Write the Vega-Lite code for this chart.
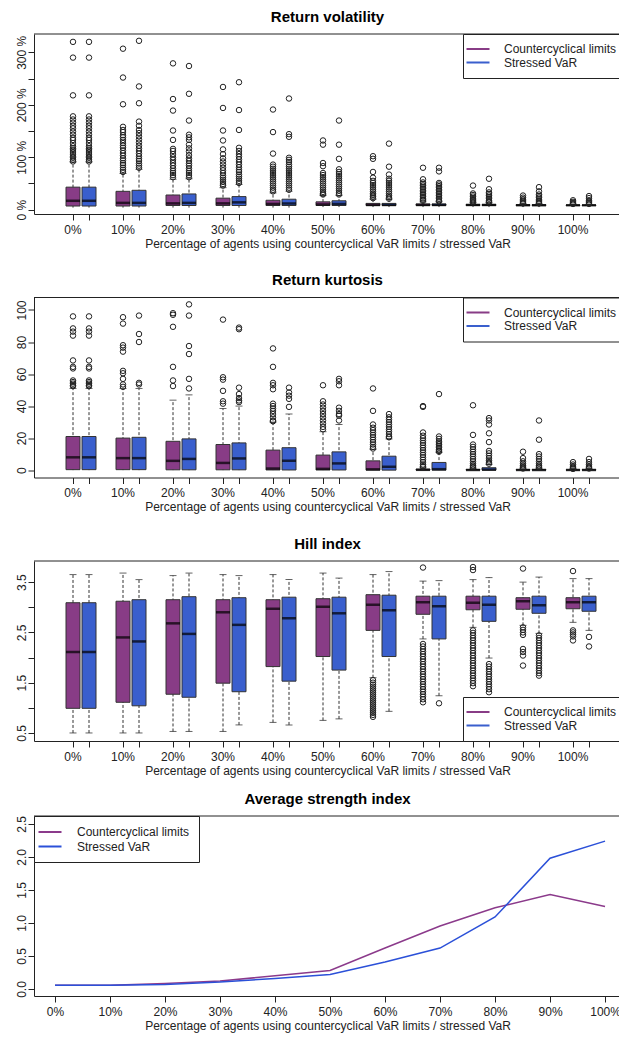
{
  "$schema": "https://vega.github.io/schema/vega-lite/v6.json",
  "background": "white",
  "padding": {"left": 14, "top": 9, "right": -5, "bottom": 6},
  "config": {
    "font": "Liberation Sans",
    "view": {"stroke": null},
    "title": {"font": "Liberation Sans", "fontSize": 15, "fontWeight": "bold", "color": "#000", "anchor": "middle", "frame": "group", "baseline": "alphabetic", "offset": 9},
    "axis": {"grid": false, "labelFont": "Liberation Sans", "labelFontSize": 12, "labelColor": "#222", "tickColor": "#222", "domainColor": "#222", "tickSize": 6, "titleFont": "Liberation Sans", "titleFontSize": 12, "titleFontWeight": "normal", "titleColor": "#222"},
    "axisX": {"labelAngle": 0, "labelPadding": 4, "titlePadding": 3, "orient": "bottom"},
    "axisY": {"labelAngle": 270, "labelAlign": "center", "labelBaseline": "alphabetic", "labelPadding": 3, "labelOverlap": false, "tickCount": 20},
    "legend": {"orient": "none", "strokeColor": "#222", "fillColor": "white", "padding": 9, "labelFont": "Liberation Sans", "labelFontSize": 12, "labelColor": "#222", "symbolSize": 144, "rowPadding": 1.5, "labelOffset": 20, "cornerRadius": 0}
  },
  "datasets": {
    "volBox": [
      {"pct": 0, "s": "C", "lo": 4, "q1": 7, "med": 17, "q3": 43, "hi": 91},
      {"pct": 0, "s": "S", "lo": 4, "q1": 7, "med": 17, "q3": 43, "hi": 91},
      {"pct": 10, "s": "C", "lo": 4, "q1": 7, "med": 13, "q3": 35, "hi": 69},
      {"pct": 10, "s": "S", "lo": 4, "q1": 7, "med": 13, "q3": 37, "hi": 77},
      {"pct": 20, "s": "C", "lo": 4, "q1": 8, "med": 12, "q3": 28, "hi": 58},
      {"pct": 20, "s": "S", "lo": 4, "q1": 8, "med": 13, "q3": 30, "hi": 59},
      {"pct": 30, "s": "C", "lo": 4, "q1": 8, "med": 12, "q3": 22, "hi": 42},
      {"pct": 30, "s": "S", "lo": 4, "q1": 8, "med": 14, "q3": 25, "hi": 48},
      {"pct": 40, "s": "C", "lo": 4, "q1": 8, "med": 11, "q3": 18, "hi": 32},
      {"pct": 40, "s": "S", "lo": 4, "q1": 8, "med": 12, "q3": 20, "hi": 35},
      {"pct": 50, "s": "C", "lo": 5, "q1": 8, "med": 10, "q3": 15, "hi": 27},
      {"pct": 50, "s": "S", "lo": 5, "q1": 8, "med": 11, "q3": 17, "hi": 27},
      {"pct": 60, "s": "C", "lo": 5, "q1": 8, "med": 9, "q3": 12, "hi": 20},
      {"pct": 60, "s": "S", "lo": 5, "q1": 8, "med": 9, "q3": 12, "hi": 20},
      {"pct": 70, "s": "C", "lo": 5, "q1": 8, "med": 9, "q3": 11, "hi": 15},
      {"pct": 70, "s": "S", "lo": 5, "q1": 8, "med": 9, "q3": 11, "hi": 15},
      {"pct": 80, "s": "C", "lo": 5, "q1": 8, "med": 9, "q3": 10, "hi": 13},
      {"pct": 80, "s": "S", "lo": 5, "q1": 8, "med": 9, "q3": 10, "hi": 13},
      {"pct": 90, "s": "C", "lo": 5, "q1": 8, "med": 8.5, "q3": 9.5, "hi": 11},
      {"pct": 90, "s": "S", "lo": 5, "q1": 8, "med": 8.5, "q3": 9.5, "hi": 11},
      {"pct": 100, "s": "C", "lo": 5, "q1": 8, "med": 8.5, "q3": 9, "hi": 10},
      {"pct": 100, "s": "S", "lo": 5, "q1": 8, "med": 8.5, "q3": 9, "hi": 10}
    ],
    "volOut": [
      {"pct":0,"s":"C","v":320},{"pct":0,"s":"C","v":290},{"pct":0,"s":"C","v":218},{"pct":0,"s":"C","v":178},{"pct":0,"s":"C","v":172},{"pct":0,"s":"C","v":166},{"pct":0,"s":"C","v":160},{"pct":0,"s":"C","v":155},{"pct":0,"s":"C","v":149},{"pct":0,"s":"C","v":143},{"pct":0,"s":"C","v":137},{"pct":0,"s":"C","v":133},{"pct":0,"s":"C","v":127},{"pct":0,"s":"C","v":121},{"pct":0,"s":"C","v":117},{"pct":0,"s":"C","v":114},{"pct":0,"s":"C","v":110},{"pct":0,"s":"C","v":106},{"pct":0,"s":"C","v":102},{"pct":0,"s":"C","v":99},{"pct":0,"s":"C","v":95},{"pct":0,"s":"C","v":92},
      {"pct":0,"s":"S","v":320},{"pct":0,"s":"S","v":290},{"pct":0,"s":"S","v":218},{"pct":0,"s":"S","v":178},{"pct":0,"s":"S","v":172},{"pct":0,"s":"S","v":166},{"pct":0,"s":"S","v":160},{"pct":0,"s":"S","v":155},{"pct":0,"s":"S","v":149},{"pct":0,"s":"S","v":143},{"pct":0,"s":"S","v":137},{"pct":0,"s":"S","v":133},{"pct":0,"s":"S","v":127},{"pct":0,"s":"S","v":121},{"pct":0,"s":"S","v":117},{"pct":0,"s":"S","v":114},{"pct":0,"s":"S","v":110},{"pct":0,"s":"S","v":106},{"pct":0,"s":"S","v":102},{"pct":0,"s":"S","v":99},{"pct":0,"s":"S","v":95},{"pct":0,"s":"S","v":92},
      {"pct":10,"s":"C","v":307},{"pct":10,"s":"C","v":252},{"pct":10,"s":"C","v":201},{"pct":10,"s":"C","v":158},{"pct":10,"s":"C","v":152},{"pct":10,"s":"C","v":148},{"pct":10,"s":"C","v":142},{"pct":10,"s":"C","v":138},{"pct":10,"s":"C","v":133},{"pct":10,"s":"C","v":127},{"pct":10,"s":"C","v":122},{"pct":10,"s":"C","v":118},{"pct":10,"s":"C","v":113},{"pct":10,"s":"C","v":108},{"pct":10,"s":"C","v":103},{"pct":10,"s":"C","v":98},{"pct":10,"s":"C","v":94},{"pct":10,"s":"C","v":89},{"pct":10,"s":"C","v":85},{"pct":10,"s":"C","v":80},{"pct":10,"s":"C","v":76},{"pct":10,"s":"C","v":72},
      {"pct":10,"s":"S","v":322},{"pct":10,"s":"S","v":235},{"pct":10,"s":"S","v":203},{"pct":10,"s":"S","v":168},{"pct":10,"s":"S","v":160},{"pct":10,"s":"S","v":152},{"pct":10,"s":"S","v":146},{"pct":10,"s":"S","v":140},{"pct":10,"s":"S","v":134},{"pct":10,"s":"S","v":128},{"pct":10,"s":"S","v":122},{"pct":10,"s":"S","v":117},{"pct":10,"s":"S","v":112},{"pct":10,"s":"S","v":107},{"pct":10,"s":"S","v":102},{"pct":10,"s":"S","v":97},{"pct":10,"s":"S","v":93},{"pct":10,"s":"S","v":88},{"pct":10,"s":"S","v":84},{"pct":10,"s":"S","v":80},
      {"pct":20,"s":"C","v":279},{"pct":20,"s":"C","v":211},{"pct":20,"s":"C","v":189},{"pct":20,"s":"C","v":151},{"pct":20,"s":"C","v":133},{"pct":20,"s":"C","v":116},{"pct":20,"s":"C","v":112},{"pct":20,"s":"C","v":106},{"pct":20,"s":"C","v":100},{"pct":20,"s":"C","v":95},{"pct":20,"s":"C","v":89},{"pct":20,"s":"C","v":84},{"pct":20,"s":"C","v":79},{"pct":20,"s":"C","v":74},{"pct":20,"s":"C","v":70},{"pct":20,"s":"C","v":66},{"pct":20,"s":"C","v":62},
      {"pct":20,"s":"S","v":274},{"pct":20,"s":"S","v":221},{"pct":20,"s":"S","v":170},{"pct":20,"s":"S","v":143},{"pct":20,"s":"S","v":138},{"pct":20,"s":"S","v":133},{"pct":20,"s":"S","v":124},{"pct":20,"s":"S","v":117},{"pct":20,"s":"S","v":111},{"pct":20,"s":"S","v":104},{"pct":20,"s":"S","v":98},{"pct":20,"s":"S","v":93},{"pct":20,"s":"S","v":88},{"pct":20,"s":"S","v":84},{"pct":20,"s":"S","v":79},{"pct":20,"s":"S","v":74},{"pct":20,"s":"S","v":70},{"pct":20,"s":"S","v":66},{"pct":20,"s":"S","v":62},
      {"pct":30,"s":"C","v":234},{"pct":30,"s":"C","v":194},{"pct":30,"s":"C","v":151},{"pct":30,"s":"C","v":132},{"pct":30,"s":"C","v":115},{"pct":30,"s":"C","v":106},{"pct":30,"s":"C","v":98},{"pct":30,"s":"C","v":92},{"pct":30,"s":"C","v":86},{"pct":30,"s":"C","v":80},{"pct":30,"s":"C","v":75},{"pct":30,"s":"C","v":70},{"pct":30,"s":"C","v":65},{"pct":30,"s":"C","v":61},{"pct":30,"s":"C","v":57},{"pct":30,"s":"C","v":53},{"pct":30,"s":"C","v":49},{"pct":30,"s":"C","v":46},
      {"pct":30,"s":"S","v":243},{"pct":30,"s":"S","v":190},{"pct":30,"s":"S","v":152},{"pct":30,"s":"S","v":118},{"pct":30,"s":"S","v":112},{"pct":30,"s":"S","v":106},{"pct":30,"s":"S","v":101},{"pct":30,"s":"S","v":96},{"pct":30,"s":"S","v":91},{"pct":30,"s":"S","v":86},{"pct":30,"s":"S","v":81},{"pct":30,"s":"S","v":76},{"pct":30,"s":"S","v":72},{"pct":30,"s":"S","v":67},{"pct":30,"s":"S","v":63},{"pct":30,"s":"S","v":59},{"pct":30,"s":"S","v":55},{"pct":30,"s":"S","v":51},
      {"pct":40,"s":"C","v":191},{"pct":40,"s":"C","v":148},{"pct":40,"s":"C","v":107},{"pct":40,"s":"C","v":86},{"pct":40,"s":"C","v":82},{"pct":40,"s":"C","v":78},{"pct":40,"s":"C","v":74},{"pct":40,"s":"C","v":70},{"pct":40,"s":"C","v":66},{"pct":40,"s":"C","v":62},{"pct":40,"s":"C","v":58},{"pct":40,"s":"C","v":54},{"pct":40,"s":"C","v":50},{"pct":40,"s":"C","v":46},{"pct":40,"s":"C","v":42},{"pct":40,"s":"C","v":38},{"pct":40,"s":"C","v":35},
      {"pct":40,"s":"S","v":212},{"pct":40,"s":"S","v":144},{"pct":40,"s":"S","v":139},{"pct":40,"s":"S","v":99},{"pct":40,"s":"S","v":95},{"pct":40,"s":"S","v":91},{"pct":40,"s":"S","v":86},{"pct":40,"s":"S","v":82},{"pct":40,"s":"S","v":78},{"pct":40,"s":"S","v":74},{"pct":40,"s":"S","v":70},{"pct":40,"s":"S","v":66},{"pct":40,"s":"S","v":62},{"pct":40,"s":"S","v":58},{"pct":40,"s":"S","v":54},{"pct":40,"s":"S","v":50},{"pct":40,"s":"S","v":46},{"pct":40,"s":"S","v":42},{"pct":40,"s":"S","v":38},
      {"pct":50,"s":"C","v":132},{"pct":50,"s":"C","v":124},{"pct":50,"s":"C","v":89},{"pct":50,"s":"C","v":83},{"pct":50,"s":"C","v":70},{"pct":50,"s":"C","v":66},{"pct":50,"s":"C","v":62},{"pct":50,"s":"C","v":58},{"pct":50,"s":"C","v":54},{"pct":50,"s":"C","v":50},{"pct":50,"s":"C","v":46},{"pct":50,"s":"C","v":42},{"pct":50,"s":"C","v":38},{"pct":50,"s":"C","v":34},{"pct":50,"s":"C","v":31},{"pct":50,"s":"C","v":29},
      {"pct":50,"s":"S","v":170},{"pct":50,"s":"S","v":124},{"pct":50,"s":"S","v":97},{"pct":50,"s":"S","v":77},{"pct":50,"s":"S","v":72},{"pct":50,"s":"S","v":68},{"pct":50,"s":"S","v":64},{"pct":50,"s":"S","v":60},{"pct":50,"s":"S","v":56},{"pct":50,"s":"S","v":52},{"pct":50,"s":"S","v":48},{"pct":50,"s":"S","v":44},{"pct":50,"s":"S","v":40},{"pct":50,"s":"S","v":36},{"pct":50,"s":"S","v":32},{"pct":50,"s":"S","v":29},
      {"pct":60,"s":"C","v":102},{"pct":60,"s":"C","v":97},{"pct":60,"s":"C","v":72},{"pct":60,"s":"C","v":61},{"pct":60,"s":"C","v":55},{"pct":60,"s":"C","v":51},{"pct":60,"s":"C","v":47},{"pct":60,"s":"C","v":43},{"pct":60,"s":"C","v":39},{"pct":60,"s":"C","v":35},{"pct":60,"s":"C","v":31},{"pct":60,"s":"C","v":28},{"pct":60,"s":"C","v":25},{"pct":60,"s":"C","v":22},
      {"pct":60,"s":"S","v":126},{"pct":60,"s":"S","v":82},{"pct":60,"s":"S","v":67},{"pct":60,"s":"S","v":59},{"pct":60,"s":"S","v":55},{"pct":60,"s":"S","v":51},{"pct":60,"s":"S","v":47},{"pct":60,"s":"S","v":43},{"pct":60,"s":"S","v":39},{"pct":60,"s":"S","v":35},{"pct":60,"s":"S","v":31},{"pct":60,"s":"S","v":27},{"pct":60,"s":"S","v":24},{"pct":60,"s":"S","v":21},
      {"pct":70,"s":"C","v":80},{"pct":70,"s":"C","v":58},{"pct":70,"s":"C","v":52},{"pct":70,"s":"C","v":49},{"pct":70,"s":"C","v":46},{"pct":70,"s":"C","v":43},{"pct":70,"s":"C","v":40},{"pct":70,"s":"C","v":37},{"pct":70,"s":"C","v":34},{"pct":70,"s":"C","v":31},{"pct":70,"s":"C","v":28},{"pct":70,"s":"C","v":25},{"pct":70,"s":"C","v":22},{"pct":70,"s":"C","v":19},{"pct":70,"s":"C","v":17},
      {"pct":70,"s":"S","v":80},{"pct":70,"s":"S","v":73},{"pct":70,"s":"S","v":51},{"pct":70,"s":"S","v":48},{"pct":70,"s":"S","v":45},{"pct":70,"s":"S","v":42},{"pct":70,"s":"S","v":39},{"pct":70,"s":"S","v":36},{"pct":70,"s":"S","v":33},{"pct":70,"s":"S","v":30},{"pct":70,"s":"S","v":27},{"pct":70,"s":"S","v":24},{"pct":70,"s":"S","v":21},{"pct":70,"s":"S","v":18},{"pct":70,"s":"S","v":16},
      {"pct":80,"s":"C","v":46},{"pct":80,"s":"C","v":31},{"pct":80,"s":"C","v":28},{"pct":80,"s":"C","v":25},{"pct":80,"s":"C","v":22},{"pct":80,"s":"C","v":20},{"pct":80,"s":"C","v":18},{"pct":80,"s":"C","v":16},{"pct":80,"s":"C","v":14},
      {"pct":80,"s":"S","v":59},{"pct":80,"s":"S","v":39},{"pct":80,"s":"S","v":33},{"pct":80,"s":"S","v":30},{"pct":80,"s":"S","v":27},{"pct":80,"s":"S","v":24},{"pct":80,"s":"S","v":21},{"pct":80,"s":"S","v":18},{"pct":80,"s":"S","v":16},{"pct":80,"s":"S","v":14},
      {"pct":90,"s":"C","v":27},{"pct":90,"s":"C","v":23},{"pct":90,"s":"C","v":20},{"pct":90,"s":"C","v":17},{"pct":90,"s":"C","v":15},{"pct":90,"s":"C","v":13},{"pct":90,"s":"C","v":12},
      {"pct":90,"s":"S","v":43},{"pct":90,"s":"S","v":35},{"pct":90,"s":"S","v":29},{"pct":90,"s":"S","v":26},{"pct":90,"s":"S","v":23},{"pct":90,"s":"S","v":20},{"pct":90,"s":"S","v":17},{"pct":90,"s":"S","v":15},{"pct":90,"s":"S","v":13},{"pct":90,"s":"S","v":12},
      {"pct":100,"s":"C","v":18},{"pct":100,"s":"C","v":15},{"pct":100,"s":"C","v":13},{"pct":100,"s":"C","v":12},{"pct":100,"s":"C","v":11},
      {"pct":100,"s":"S","v":26},{"pct":100,"s":"S","v":22},{"pct":100,"s":"S","v":18},{"pct":100,"s":"S","v":15},{"pct":100,"s":"S","v":13},{"pct":100,"s":"S","v":11}
    ],
    "kurtBox": [
      {"pct": 0, "s": "C", "lo": 0, "q1": 0.3, "med": 8, "q3": 21, "hi": 51},
      {"pct": 0, "s": "S", "lo": 0, "q1": 0.3, "med": 8, "q3": 21, "hi": 51},
      {"pct": 10, "s": "C", "lo": 0, "q1": 0.3, "med": 7.5, "q3": 20, "hi": 51},
      {"pct": 10, "s": "S", "lo": 0, "q1": 0.3, "med": 7.5, "q3": 20.5, "hi": 51},
      {"pct": 20, "s": "C", "lo": 0, "q1": 0.2, "med": 5.8, "q3": 18, "hi": 43.7},
      {"pct": 20, "s": "S", "lo": 0, "q1": 0.2, "med": 7, "q3": 19.5, "hi": 47},
      {"pct": 30, "s": "C", "lo": 0, "q1": 0.2, "med": 4.5, "q3": 16, "hi": 38.5},
      {"pct": 30, "s": "S", "lo": 0, "q1": 0.2, "med": 7.3, "q3": 17, "hi": 40},
      {"pct": 40, "s": "C", "lo": 0, "q1": 0.1, "med": 1, "q3": 12.5, "hi": 30},
      {"pct": 40, "s": "S", "lo": 0, "q1": 0.1, "med": 5.8, "q3": 14, "hi": 35},
      {"pct": 50, "s": "C", "lo": 0, "q1": 0.1, "med": 0.8, "q3": 9.4, "hi": 24},
      {"pct": 50, "s": "S", "lo": 0, "q1": 0.1, "med": 4.2, "q3": 11.4, "hi": 28.5},
      {"pct": 60, "s": "C", "lo": 0, "q1": 0, "med": 0.5, "q3": 5.8, "hi": 13},
      {"pct": 60, "s": "S", "lo": 0, "q1": 0, "med": 2.1, "q3": 8.7, "hi": 19.5},
      {"pct": 70, "s": "C", "lo": 0, "q1": 0, "med": 0.2, "q3": 0.6, "hi": 1.5},
      {"pct": 70, "s": "S", "lo": 0, "q1": 0, "med": 0.6, "q3": 4.8, "hi": 11},
      {"pct": 80, "s": "C", "lo": 0, "q1": 0, "med": 0.1, "q3": 0.4, "hi": 1},
      {"pct": 80, "s": "S", "lo": 0, "q1": 0, "med": 0.3, "q3": 1.5, "hi": 3.5},
      {"pct": 90, "s": "C", "lo": 0, "q1": 0, "med": 0.1, "q3": 0.3, "hi": 0.7},
      {"pct": 90, "s": "S", "lo": 0, "q1": 0, "med": 0.1, "q3": 0.4, "hi": 1},
      {"pct": 100, "s": "C", "lo": 0, "q1": 0, "med": 0.1, "q3": 0.2, "hi": 0.5},
      {"pct": 100, "s": "S", "lo": 0, "q1": 0, "med": 0.1, "q3": 0.3, "hi": 0.7}
    ],
    "kurtOut": [
      {"pct":0,"s":"C","v":96},{"pct":0,"s":"C","v":88.5},{"pct":0,"s":"C","v":86.5},{"pct":0,"s":"C","v":84},{"pct":0,"s":"C","v":68.5},{"pct":0,"s":"C","v":64.5},{"pct":0,"s":"C","v":63.5},{"pct":0,"s":"C","v":56},{"pct":0,"s":"C","v":55},{"pct":0,"s":"C","v":54},{"pct":0,"s":"C","v":53},{"pct":0,"s":"C","v":52.5},
      {"pct":0,"s":"S","v":96},{"pct":0,"s":"S","v":88.5},{"pct":0,"s":"S","v":86.5},{"pct":0,"s":"S","v":84},{"pct":0,"s":"S","v":68.5},{"pct":0,"s":"S","v":64.5},{"pct":0,"s":"S","v":63.5},{"pct":0,"s":"S","v":56},{"pct":0,"s":"S","v":55},{"pct":0,"s":"S","v":54},{"pct":0,"s":"S","v":53},{"pct":0,"s":"S","v":52.5},
      {"pct":10,"s":"C","v":95.5},{"pct":10,"s":"C","v":91.5},{"pct":10,"s":"C","v":78},{"pct":10,"s":"C","v":76.5},{"pct":10,"s":"C","v":74},{"pct":10,"s":"C","v":62},{"pct":10,"s":"C","v":60.5},{"pct":10,"s":"C","v":57},{"pct":10,"s":"C","v":53.5},{"pct":10,"s":"C","v":52},
      {"pct":10,"s":"S","v":96.5},{"pct":10,"s":"S","v":85},{"pct":10,"s":"S","v":80},{"pct":10,"s":"S","v":54.5},{"pct":10,"s":"S","v":53.5},
      {"pct":20,"s":"C","v":98},{"pct":20,"s":"C","v":97},{"pct":20,"s":"C","v":89.5},{"pct":20,"s":"C","v":64.5},{"pct":20,"s":"C","v":56},{"pct":20,"s":"C","v":52.5},
      {"pct":20,"s":"S","v":103.5},{"pct":20,"s":"S","v":96.5},{"pct":20,"s":"S","v":77.5},{"pct":20,"s":"S","v":72.5},{"pct":20,"s":"S","v":57},{"pct":20,"s":"S","v":51},
      {"pct":30,"s":"C","v":94},{"pct":30,"s":"C","v":58},{"pct":30,"s":"C","v":56.5},{"pct":30,"s":"C","v":49.5},{"pct":30,"s":"C","v":43},{"pct":30,"s":"C","v":41.5},
      {"pct":30,"s":"S","v":89},{"pct":30,"s":"S","v":88},{"pct":30,"s":"S","v":51.5},{"pct":30,"s":"S","v":47.5},{"pct":30,"s":"S","v":45},{"pct":30,"s":"S","v":43.5},{"pct":30,"s":"S","v":42.5},
      {"pct":40,"s":"C","v":76},{"pct":40,"s":"C","v":64.5},{"pct":40,"s":"C","v":54.5},{"pct":40,"s":"C","v":53},{"pct":40,"s":"C","v":50.5},{"pct":40,"s":"C","v":41.5},{"pct":40,"s":"C","v":40},{"pct":40,"s":"C","v":38.5},{"pct":40,"s":"C","v":37},{"pct":40,"s":"C","v":35},{"pct":40,"s":"C","v":33},{"pct":40,"s":"C","v":31},{"pct":40,"s":"C","v":30.5},
      {"pct":40,"s":"S","v":51.5},{"pct":40,"s":"S","v":48.5},{"pct":40,"s":"S","v":46.5},{"pct":40,"s":"S","v":44.5},{"pct":40,"s":"S","v":39.5},
      {"pct":50,"s":"C","v":53},{"pct":50,"s":"C","v":43},{"pct":50,"s":"C","v":41},{"pct":50,"s":"C","v":39},{"pct":50,"s":"C","v":37},{"pct":50,"s":"C","v":35},{"pct":50,"s":"C","v":33},{"pct":50,"s":"C","v":31},{"pct":50,"s":"C","v":29},{"pct":50,"s":"C","v":27},{"pct":50,"s":"C","v":25.5},
      {"pct":50,"s":"S","v":57},{"pct":50,"s":"S","v":55.5},{"pct":50,"s":"S","v":53},{"pct":50,"s":"S","v":39},{"pct":50,"s":"S","v":37},{"pct":50,"s":"S","v":35},{"pct":50,"s":"S","v":34},{"pct":50,"s":"S","v":31},
      {"pct":60,"s":"C","v":51},{"pct":60,"s":"C","v":37},{"pct":60,"s":"C","v":28.5},{"pct":60,"s":"C","v":26.5},{"pct":60,"s":"C","v":25},{"pct":60,"s":"C","v":23.5},{"pct":60,"s":"C","v":22},{"pct":60,"s":"C","v":20.5},{"pct":60,"s":"C","v":19},{"pct":60,"s":"C","v":17.5},{"pct":60,"s":"C","v":16},{"pct":60,"s":"C","v":14.5},{"pct":60,"s":"C","v":13.5},
      {"pct":60,"s":"S","v":35},{"pct":60,"s":"S","v":33},{"pct":60,"s":"S","v":31.5},{"pct":60,"s":"S","v":30},{"pct":60,"s":"S","v":28.5},{"pct":60,"s":"S","v":27},{"pct":60,"s":"S","v":25.5},{"pct":60,"s":"S","v":24},{"pct":60,"s":"S","v":22.5},{"pct":60,"s":"S","v":21},{"pct":60,"s":"S","v":20.5},
      {"pct":70,"s":"C","v":40},{"pct":70,"s":"C","v":39.5},{"pct":70,"s":"C","v":23.5},{"pct":70,"s":"C","v":21.5},{"pct":70,"s":"C","v":20},{"pct":70,"s":"C","v":18.5},{"pct":70,"s":"C","v":17},{"pct":70,"s":"C","v":15.5},{"pct":70,"s":"C","v":14},{"pct":70,"s":"C","v":12.5},{"pct":70,"s":"C","v":11},{"pct":70,"s":"C","v":9.5},{"pct":70,"s":"C","v":8},{"pct":70,"s":"C","v":6.5},{"pct":70,"s":"C","v":5},{"pct":70,"s":"C","v":3.5},{"pct":70,"s":"C","v":2.5},{"pct":70,"s":"C","v":2},
      {"pct":70,"s":"S","v":47.5},{"pct":70,"s":"S","v":21},{"pct":70,"s":"S","v":19.5},{"pct":70,"s":"S","v":18},{"pct":70,"s":"S","v":17},{"pct":70,"s":"S","v":16},{"pct":70,"s":"S","v":15},{"pct":70,"s":"S","v":14},{"pct":70,"s":"S","v":13},{"pct":70,"s":"S","v":12},{"pct":70,"s":"S","v":11.5},
      {"pct":80,"s":"C","v":40.5},{"pct":80,"s":"C","v":22},{"pct":80,"s":"C","v":16},{"pct":80,"s":"C","v":14.5},{"pct":80,"s":"C","v":13},{"pct":80,"s":"C","v":11.5},{"pct":80,"s":"C","v":10},{"pct":80,"s":"C","v":8.5},{"pct":80,"s":"C","v":7},{"pct":80,"s":"C","v":5.5},{"pct":80,"s":"C","v":4},{"pct":80,"s":"C","v":3},{"pct":80,"s":"C","v":2},{"pct":80,"s":"C","v":1.5},
      {"pct":80,"s":"S","v":32.5},{"pct":80,"s":"S","v":31},{"pct":80,"s":"S","v":28.5},{"pct":80,"s":"S","v":23},{"pct":80,"s":"S","v":17.5},{"pct":80,"s":"S","v":12},{"pct":80,"s":"S","v":10.5},{"pct":80,"s":"S","v":9},{"pct":80,"s":"S","v":7.5},{"pct":80,"s":"S","v":6},{"pct":80,"s":"S","v":5},{"pct":80,"s":"S","v":4},
      {"pct":90,"s":"C","v":11.5},{"pct":90,"s":"C","v":7.5},{"pct":90,"s":"C","v":5.5},{"pct":90,"s":"C","v":4},{"pct":90,"s":"C","v":3},{"pct":90,"s":"C","v":2},{"pct":90,"s":"C","v":1.5},{"pct":90,"s":"C","v":1},
      {"pct":90,"s":"S","v":31},{"pct":90,"s":"S","v":19},{"pct":90,"s":"S","v":10},{"pct":90,"s":"S","v":8.5},{"pct":90,"s":"S","v":7},{"pct":90,"s":"S","v":5.5},{"pct":90,"s":"S","v":4},{"pct":90,"s":"S","v":3},{"pct":90,"s":"S","v":2},{"pct":90,"s":"S","v":1.5},
      {"pct":100,"s":"C","v":5},{"pct":100,"s":"C","v":3.5},{"pct":100,"s":"C","v":2.5},{"pct":100,"s":"C","v":1.5},{"pct":100,"s":"C","v":1},{"pct":100,"s":"C","v":0.8},
      {"pct":100,"s":"S","v":7},{"pct":100,"s":"S","v":5},{"pct":100,"s":"S","v":3.5},{"pct":100,"s":"S","v":2.5},{"pct":100,"s":"S","v":1.5},{"pct":100,"s":"S","v":1}
    ],
    "hillBox": [
      {"pct": 0, "s": "C", "lo": 0.5, "q1": 0.99, "med": 2.11, "q3": 3.09, "hi": 3.65},
      {"pct": 0, "s": "S", "lo": 0.5, "q1": 0.99, "med": 2.11, "q3": 3.09, "hi": 3.65},
      {"pct": 10, "s": "C", "lo": 0.5, "q1": 1.11, "med": 2.4, "q3": 3.12, "hi": 3.68},
      {"pct": 10, "s": "S", "lo": 0.5, "q1": 1.04, "med": 2.32, "q3": 3.15, "hi": 3.55},
      {"pct": 20, "s": "C", "lo": 0.53, "q1": 1.27, "med": 2.68, "q3": 3.15, "hi": 3.63},
      {"pct": 20, "s": "S", "lo": 0.53, "q1": 1.21, "med": 2.47, "q3": 3.21, "hi": 3.68},
      {"pct": 30, "s": "C", "lo": 0.53, "q1": 1.49, "med": 2.9, "q3": 3.15, "hi": 3.65},
      {"pct": 30, "s": "S", "lo": 0.66, "q1": 1.32, "med": 2.65, "q3": 3.19, "hi": 3.63},
      {"pct": 40, "s": "C", "lo": 0.71, "q1": 1.82, "med": 2.97, "q3": 3.15, "hi": 3.65},
      {"pct": 40, "s": "S", "lo": 0.66, "q1": 1.53, "med": 2.78, "q3": 3.2, "hi": 3.55},
      {"pct": 50, "s": "C", "lo": 0.75, "q1": 2.02, "med": 3.01, "q3": 3.17, "hi": 3.68},
      {"pct": 50, "s": "S", "lo": 0.78, "q1": 1.75, "med": 2.88, "q3": 3.2, "hi": 3.58},
      {"pct": 60, "s": "C", "lo": 1.6, "q1": 2.54, "med": 3.05, "q3": 3.25, "hi": 3.65},
      {"pct": 60, "s": "S", "lo": 0.93, "q1": 2.02, "med": 2.94, "q3": 3.24, "hi": 3.71},
      {"pct": 70, "s": "C", "lo": 2.37, "q1": 2.86, "med": 3.1, "q3": 3.22, "hi": 3.52},
      {"pct": 70, "s": "S", "lo": 1.24, "q1": 2.37, "med": 3.02, "q3": 3.22, "hi": 3.53},
      {"pct": 80, "s": "C", "lo": 2.6, "q1": 2.95, "med": 3.09, "q3": 3.22, "hi": 3.55},
      {"pct": 80, "s": "S", "lo": 1.99, "q1": 2.72, "med": 3.05, "q3": 3.22, "hi": 3.59},
      {"pct": 90, "s": "C", "lo": 2.64, "q1": 2.96, "med": 3.12, "q3": 3.19, "hi": 3.5},
      {"pct": 90, "s": "S", "lo": 2.48, "q1": 2.88, "med": 3.04, "q3": 3.22, "hi": 3.6},
      {"pct": 100, "s": "C", "lo": 2.7, "q1": 2.97, "med": 3.1, "q3": 3.19, "hi": 3.57},
      {"pct": 100, "s": "S", "lo": 2.54, "q1": 2.92, "med": 3.1, "q3": 3.22, "hi": 3.57}
    ],
    "hillOut": [
      {"pct":60,"s":"C","v":1.55},{"pct":60,"s":"C","v":1.5},{"pct":60,"s":"C","v":1.46},{"pct":60,"s":"C","v":1.42},{"pct":60,"s":"C","v":1.38},{"pct":60,"s":"C","v":1.34},{"pct":60,"s":"C","v":1.3},{"pct":60,"s":"C","v":1.26},{"pct":60,"s":"C","v":1.22},{"pct":60,"s":"C","v":1.18},{"pct":60,"s":"C","v":1.14},{"pct":60,"s":"C","v":1.1},{"pct":60,"s":"C","v":1.06},{"pct":60,"s":"C","v":1.02},{"pct":60,"s":"C","v":0.98},{"pct":60,"s":"C","v":0.94},{"pct":60,"s":"C","v":0.9},{"pct":60,"s":"C","v":0.86},{"pct":60,"s":"C","v":0.82},
      {"pct":70,"s":"C","v":3.79},{"pct":70,"s":"C","v":2.27},{"pct":70,"s":"C","v":2.22},{"pct":70,"s":"C","v":2.17},{"pct":70,"s":"C","v":2.12},{"pct":70,"s":"C","v":2.07},{"pct":70,"s":"C","v":2.02},{"pct":70,"s":"C","v":1.97},{"pct":70,"s":"C","v":1.92},{"pct":70,"s":"C","v":1.87},{"pct":70,"s":"C","v":1.82},{"pct":70,"s":"C","v":1.77},{"pct":70,"s":"C","v":1.72},{"pct":70,"s":"C","v":1.67},{"pct":70,"s":"C","v":1.62},{"pct":70,"s":"C","v":1.57},{"pct":70,"s":"C","v":1.52},{"pct":70,"s":"C","v":1.47},{"pct":70,"s":"C","v":1.42},{"pct":70,"s":"C","v":1.37},{"pct":70,"s":"C","v":1.32},{"pct":70,"s":"C","v":1.27},{"pct":70,"s":"C","v":1.22},{"pct":70,"s":"C","v":1.17},{"pct":70,"s":"C","v":1.11},
      {"pct":70,"s":"S","v":1.09},
      {"pct":80,"s":"C","v":3.8},{"pct":80,"s":"C","v":3.74},{"pct":80,"s":"C","v":2.54},{"pct":80,"s":"C","v":2.49},{"pct":80,"s":"C","v":2.44},{"pct":80,"s":"C","v":2.39},{"pct":80,"s":"C","v":2.34},{"pct":80,"s":"C","v":2.29},{"pct":80,"s":"C","v":2.24},{"pct":80,"s":"C","v":2.19},{"pct":80,"s":"C","v":2.14},{"pct":80,"s":"C","v":2.09},{"pct":80,"s":"C","v":2.04},{"pct":80,"s":"C","v":1.99},{"pct":80,"s":"C","v":1.94},{"pct":80,"s":"C","v":1.89},{"pct":80,"s":"C","v":1.84},{"pct":80,"s":"C","v":1.79},{"pct":80,"s":"C","v":1.74},{"pct":80,"s":"C","v":1.69},{"pct":80,"s":"C","v":1.64},{"pct":80,"s":"C","v":1.59},{"pct":80,"s":"C","v":1.54},{"pct":80,"s":"C","v":1.49},{"pct":80,"s":"C","v":1.43},
      {"pct":80,"s":"S","v":1.87},{"pct":80,"s":"S","v":1.82},{"pct":80,"s":"S","v":1.77},{"pct":80,"s":"S","v":1.72},{"pct":80,"s":"S","v":1.67},{"pct":80,"s":"S","v":1.62},{"pct":80,"s":"S","v":1.57},{"pct":80,"s":"S","v":1.52},{"pct":80,"s":"S","v":1.47},{"pct":80,"s":"S","v":1.42},{"pct":80,"s":"S","v":1.37},{"pct":80,"s":"S","v":1.31},
      {"pct":90,"s":"C","v":3.77},{"pct":90,"s":"C","v":2.6},{"pct":90,"s":"C","v":2.55},{"pct":90,"s":"C","v":2.5},{"pct":90,"s":"C","v":2.45},{"pct":90,"s":"C","v":2.17},{"pct":90,"s":"C","v":2.11},{"pct":90,"s":"C","v":2.04},{"pct":90,"s":"C","v":1.84},
      {"pct":90,"s":"S","v":2.44},{"pct":90,"s":"S","v":2.39},{"pct":90,"s":"S","v":2.34},{"pct":90,"s":"S","v":2.29},{"pct":90,"s":"S","v":2.24},{"pct":90,"s":"S","v":2.19},{"pct":90,"s":"S","v":2.14},{"pct":90,"s":"S","v":2.09},{"pct":90,"s":"S","v":2.04},{"pct":90,"s":"S","v":1.99},{"pct":90,"s":"S","v":1.94},{"pct":90,"s":"S","v":1.89},{"pct":90,"s":"S","v":1.84},{"pct":90,"s":"S","v":1.79},{"pct":90,"s":"S","v":1.74},{"pct":90,"s":"S","v":1.69},{"pct":90,"s":"S","v":1.64},
      {"pct":100,"s":"C","v":3.72},{"pct":100,"s":"C","v":2.54},{"pct":100,"s":"C","v":2.5},{"pct":100,"s":"C","v":2.46},{"pct":100,"s":"C","v":2.42},{"pct":100,"s":"C","v":2.34},
      {"pct":100,"s":"S","v":2.41},{"pct":100,"s":"S","v":2.22}
    ],
    "strength": [
      {"pct":0,"s":"C","v":0.056},{"pct":10,"s":"C","v":0.056},{"pct":20,"s":"C","v":0.085},{"pct":30,"s":"C","v":0.12},{"pct":40,"s":"C","v":0.2},{"pct":50,"s":"C","v":0.28},{"pct":60,"s":"C","v":0.62},{"pct":70,"s":"C","v":0.955},{"pct":80,"s":"C","v":1.23},{"pct":90,"s":"C","v":1.43},{"pct":100,"s":"C","v":1.25},
      {"pct":0,"s":"S","v":0.056},{"pct":10,"s":"S","v":0.056},{"pct":20,"s":"S","v":0.07},{"pct":30,"s":"S","v":0.105},{"pct":40,"s":"S","v":0.16},{"pct":50,"s":"S","v":0.22},{"pct":60,"s":"S","v":0.41},{"pct":70,"s":"S","v":0.62},{"pct":80,"s":"S","v":1.09},{"pct":90,"s":"S","v":1.98},{"pct":100,"s":"S","v":2.24}
    ]
  },
  "resolve": {"scale": {"color": "independent", "xOffset": "independent"}, "legend": {"color": "independent"}},
  "spacing": 15,
  "vconcat": [
    {
      "spacing": 23.5,
      "resolve": {"scale": {"color": "independent", "xOffset": "independent"}, "legend": {"color": "independent"}},
      "vconcat": [
        {
          "title": "Return volatility",
          "width": 587, "height": 180,
          "resolve": {"axis": {"x": "independent"}},
          "layer": [
            {"data": {"name": "volBox"}, "mark": {"type": "rule", "color": "#333", "strokeDash": [3, 2]},
             "encoding": {
               "x": {"field": "pct", "type": "ordinal", "scale": {"paddingInner": 0, "paddingOuter": 0.37, "align": 0.5946}, "axis": null},
               "xOffset": {"field": "s", "scale": {"paddingInner": 0.125, "paddingOuter": 0.625}},
               "y": {"field": "lo", "type": "quantitative", "title": null, "scale": {"domain": [-8.2, 335], "nice": false, "zero": false},
                     "axis": {"values": [0, 50, 100, 150, 200, 250, 300], "tickCount": 20, "labelOverlap": false, "labelExpr": "datum.value % 100 === 0 ? datum.value + ' %' : ''"}},
               "y2": {"field": "hi"}}},
            {"data": {"name": "volBox"}, "mark": {"type": "tick", "orient": "horizontal", "color": "#222", "size": 7, "thickness": 1},
             "encoding": {
               "x": {"field": "pct", "type": "ordinal", "axis": null},
               "xOffset": {"field": "s"},
               "y": {"field": "hi", "type": "quantitative", "title": null}}},
            {"data": {"name": "volBox"}, "mark": {"type": "bar", "stroke": "#333", "strokeWidth": 1},
             "encoding": {
               "x": {"field": "pct", "type": "ordinal", "axis": {"bandPosition": 0.34, "labelOffset": -8, "labelExpr": "datum.value + '%'", "title": "Percentage of agents using countercyclical VaR limits / stressed VaR", "orient": "bottom"}},
               "xOffset": {"field": "s"},
               "y": {"field": "q1", "type": "quantitative", "title": null},
               "y2": {"field": "q3"},
               "color": {"field": "s", "type": "nominal", "scale": {"domain": ["C", "S"], "range": ["#883C86", "#3A5FCD"]},
                         "legend": {"title": null, "legendX": 429, "legendY": 0, "symbolType": "M-1.917,-0.167H1.917V0.167H-1.917Z", "symbolStrokeWidth": 0, "labelExpr": "datum.value === 'C' ? 'Countercyclical limits' : 'Stressed VaR'"}}}},
            {"data": {"name": "volBox"}, "mark": {"type": "tick", "orient": "horizontal", "color": "#000", "size": 14, "thickness": 2.5},
             "encoding": {
               "x": {"field": "pct", "type": "ordinal", "axis": {"bandPosition": 0.66, "labels": false, "title": null, "domain": false, "orient": "bottom"}},
               "xOffset": {"field": "s"},
               "y": {"field": "med", "type": "quantitative", "title": null}}},
            {"data": {"name": "volOut"}, "mark": {"type": "point", "shape": "circle", "filled": false, "size": 30, "stroke": "#222", "strokeWidth": 1, "opacity": 1},
             "encoding": {
               "x": {"field": "pct", "type": "ordinal", "axis": null},
               "xOffset": {"field": "s"},
               "y": {"field": "v", "type": "quantitative", "title": null}}},
            {"data": {"values": [{}]}, "mark": {"type": "rule", "color": "#222"}, "encoding": {"y": {"datum": 335}}}
          ]
        },
        {
          "title": "Return kurtosis",
          "width": 587, "height": 180,
          "resolve": {"axis": {"x": "independent"}},
          "layer": [
            {"data": {"name": "kurtBox"}, "mark": {"type": "rule", "color": "#333", "strokeDash": [3, 2]},
             "encoding": {
               "x": {"field": "pct", "type": "ordinal", "scale": {"paddingInner": 0, "paddingOuter": 0.37, "align": 0.5946}, "axis": null},
               "xOffset": {"field": "s", "scale": {"paddingInner": 0.125, "paddingOuter": 0.625}},
               "y": {"field": "lo", "type": "quantitative", "title": null, "scale": {"domain": [-4.6, 107.8], "nice": false, "zero": false},
                     "axis": {"values": [0, 20, 40, 60, 80, 100], "tickCount": 20, "labelOverlap": false}},
               "y2": {"field": "hi"}}},
            {"data": {"name": "kurtBox"}, "mark": {"type": "tick", "orient": "horizontal", "color": "#222", "size": 7, "thickness": 1},
             "encoding": {
               "x": {"field": "pct", "type": "ordinal", "axis": null},
               "xOffset": {"field": "s"},
               "y": {"field": "hi", "type": "quantitative", "title": null}}},
            {"data": {"name": "kurtBox"}, "mark": {"type": "bar", "stroke": "#333", "strokeWidth": 1},
             "encoding": {
               "x": {"field": "pct", "type": "ordinal", "axis": {"bandPosition": 0.34, "labelOffset": -8, "labelExpr": "datum.value + '%'", "title": "Percentage of agents using countercyclical VaR limits / stressed VaR", "orient": "bottom"}},
               "xOffset": {"field": "s"},
               "y": {"field": "q1", "type": "quantitative", "title": null},
               "y2": {"field": "q3"},
               "color": {"field": "s", "type": "nominal", "scale": {"domain": ["C", "S"], "range": ["#883C86", "#3A5FCD"]},
                         "legend": {"title": null, "legendX": 429, "legendY": 0, "symbolType": "M-1.917,-0.167H1.917V0.167H-1.917Z", "symbolStrokeWidth": 0, "labelExpr": "datum.value === 'C' ? 'Countercyclical limits' : 'Stressed VaR'"}}}},
            {"data": {"name": "kurtBox"}, "mark": {"type": "tick", "orient": "horizontal", "color": "#000", "size": 14, "thickness": 2.5},
             "encoding": {
               "x": {"field": "pct", "type": "ordinal", "axis": {"bandPosition": 0.66, "labels": false, "title": null, "domain": false, "orient": "bottom"}},
               "xOffset": {"field": "s"},
               "y": {"field": "med", "type": "quantitative", "title": null}}},
            {"data": {"name": "kurtOut"}, "mark": {"type": "point", "shape": "circle", "filled": false, "size": 30, "stroke": "#222", "strokeWidth": 1, "opacity": 1},
             "encoding": {
               "x": {"field": "pct", "type": "ordinal", "axis": null},
               "xOffset": {"field": "s"},
               "y": {"field": "v", "type": "quantitative", "title": null}}},
            {"data": {"values": [{}]}, "mark": {"type": "rule", "color": "#222"}, "encoding": {"y": {"datum": 107.8}}}
          ]
        },
        {
          "title": "Hill index",
          "width": 587, "height": 180,
          "resolve": {"axis": {"x": "independent"}},
          "layer": [
            {"data": {"name": "hillBox"}, "mark": {"type": "rule", "color": "#333", "strokeDash": [3, 2]},
             "encoding": {
               "x": {"field": "pct", "type": "ordinal", "scale": {"paddingInner": 0, "paddingOuter": 0.37, "align": 0.5946}, "axis": null},
               "xOffset": {"field": "s", "scale": {"paddingInner": 0.125, "paddingOuter": 0.625}},
               "y": {"field": "lo", "type": "quantitative", "title": null, "scale": {"domain": [0.34, 3.92], "nice": false, "zero": false},
                     "axis": {"values": [0.5, 1, 1.5, 2, 2.5, 3, 3.5], "tickCount": 20, "labelOverlap": false, "labelExpr": "datum.value === 0.5 || datum.value === 1.5 || datum.value === 2.5 || datum.value === 3.5 ? format(datum.value, '.1f') : ''"}},
               "y2": {"field": "hi"}}},
            {"data": {"name": "hillBox"}, "mark": {"type": "tick", "orient": "horizontal", "color": "#222", "size": 7, "thickness": 1},
             "encoding": {
               "x": {"field": "pct", "type": "ordinal", "axis": null},
               "xOffset": {"field": "s"},
               "y": {"field": "hi", "type": "quantitative", "title": null}}},
            {"data": {"name": "hillBox"}, "mark": {"type": "tick", "orient": "horizontal", "color": "#222", "size": 7, "thickness": 1},
             "encoding": {
               "x": {"field": "pct", "type": "ordinal", "axis": null},
               "xOffset": {"field": "s"},
               "y": {"field": "lo", "type": "quantitative", "title": null}}},
            {"data": {"name": "hillBox"}, "mark": {"type": "bar", "stroke": "#333", "strokeWidth": 1},
             "encoding": {
               "x": {"field": "pct", "type": "ordinal", "axis": {"bandPosition": 0.34, "labelOffset": -8, "labelExpr": "datum.value + '%'", "title": "Percentage of agents using countercyclical VaR limits / stressed VaR", "orient": "bottom"}},
               "xOffset": {"field": "s"},
               "y": {"field": "q1", "type": "quantitative", "title": null},
               "y2": {"field": "q3"},
               "color": {"field": "s", "type": "nominal", "scale": {"domain": ["C", "S"], "range": ["#883C86", "#3A5FCD"]},
                         "legend": {"title": null, "legendX": 429, "legendY": 136, "symbolType": "M-1.917,-0.167H1.917V0.167H-1.917Z", "symbolStrokeWidth": 0, "labelExpr": "datum.value === 'C' ? 'Countercyclical limits' : 'Stressed VaR'"}}}},
            {"data": {"name": "hillBox"}, "mark": {"type": "tick", "orient": "horizontal", "color": "#000", "size": 14, "thickness": 2.5},
             "encoding": {
               "x": {"field": "pct", "type": "ordinal", "axis": {"bandPosition": 0.66, "labels": false, "title": null, "domain": false, "orient": "bottom"}},
               "xOffset": {"field": "s"},
               "y": {"field": "med", "type": "quantitative", "title": null}}},
            {"data": {"name": "hillOut"}, "mark": {"type": "point", "shape": "circle", "filled": false, "size": 30, "stroke": "#222", "strokeWidth": 1, "opacity": 1},
             "encoding": {
               "x": {"field": "pct", "type": "ordinal", "axis": null},
               "xOffset": {"field": "s"},
               "y": {"field": "v", "type": "quantitative", "title": null}}},
            {"data": {"values": [{}]}, "mark": {"type": "rule", "color": "#222"}, "encoding": {"y": {"datum": 3.92}}}
          ]
        }
      ]
    },
    {
      "title": "Average strength index",
      "width": 587, "height": 180,
      "data": {"name": "strength"},
      "layer": [
        {"mark": {"type": "line", "strokeWidth": 1.5},
         "encoding": {
           "x": {"field": "pct", "type": "quantitative", "scale": {"domain": [-3.82, 102.9], "nice": false, "zero": false},
                 "axis": {"values": [0, 10, 20, 30, 40, 50, 60, 70, 80, 90, 100], "tickCount": 20, "labelExpr": "datum.value + '%'", "title": "Percentage of agents using countercyclical VaR limits / stressed VaR"}},
           "y": {"field": "v", "type": "quantitative", "title": null, "scale": {"domain": [-0.106, 2.62], "nice": false, "zero": false},
                 "axis": {"values": [0, 0.5, 1, 1.5, 2, 2.5], "tickCount": 20, "labelOverlap": false, "labelExpr": "format(datum.value, '.1f')"}},
           "color": {"field": "s", "type": "nominal", "scale": {"domain": ["C", "S"], "range": ["#8B3A8B", "#2B50D8"]},
                     "legend": {"title": null, "legendX": 0, "legendY": 0, "symbolType": "M-1.917,0H1.917", "symbolStrokeWidth": 2, "labelExpr": "datum.value === 'C' ? 'Countercyclical limits' : 'Stressed VaR'"}}}},
        {"data": {"values": [{}]}, "mark": {"type": "rule", "color": "#222"}, "encoding": {"y": {"datum": 2.62}}}
      ]
    }
  ]
}
